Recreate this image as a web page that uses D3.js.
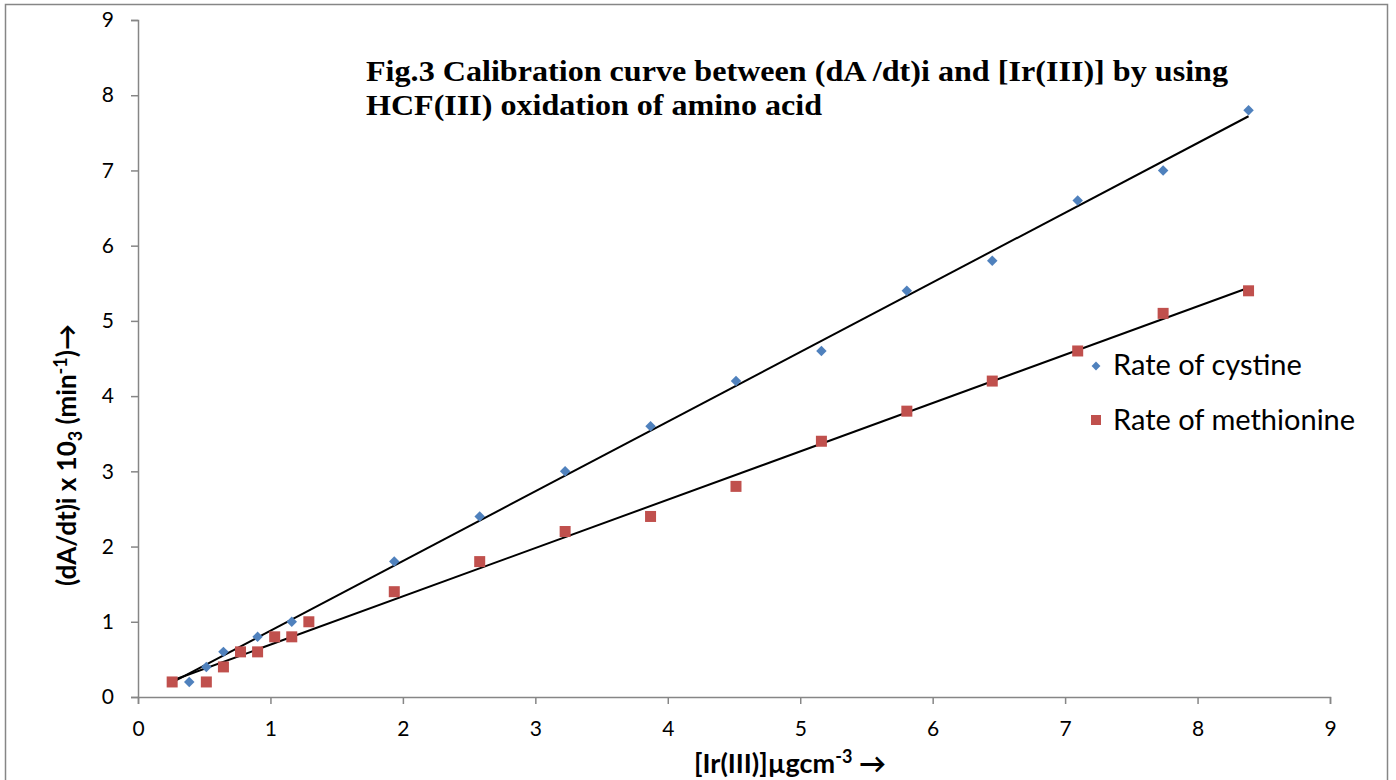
<!DOCTYPE html>
<html>
<head>
<meta charset="utf-8">
<script src="https://cdn.jsdelivr.net/npm/d3@7"></script>
<style>
  body { margin: 0; background: #fff; }
  svg { display: block; }
</style>
</head>
<body>
<div id="chart"></div>
<script>
// data
var cystineX = [0.387, 0.516, 0.645, 0.903, 1.161, 1.935, 2.58, 3.225, 3.87, 4.515, 5.16, 5.805, 6.45, 7.095, 7.74, 8.385];
var cystineY = [0.2, 0.4, 0.6, 0.8, 1.0, 1.8, 2.4, 3.0, 3.6, 4.2, 4.6, 5.4, 5.8, 6.6, 7.0, 7.8];
var methX = [0.258, 0.516, 0.645, 0.774, 0.903, 1.032, 1.161, 1.29, 1.935, 2.58, 3.225, 3.87, 4.515, 5.16, 5.805, 6.45, 7.095, 7.74, 8.385];
var methY = [0.2, 0.2, 0.4, 0.6, 0.6, 0.8, 0.8, 1.0, 1.4, 1.8, 2.2, 2.4, 2.8, 3.4, 3.8, 4.2, 4.6, 5.1, 5.4];
var xTicks = [0, 1, 2, 3, 4, 5, 6, 7, 8, 9];
var yTicks = [0, 1, 2, 3, 4, 5, 6, 7, 8, 9];
var seriesNames = ["Rate of cystine", "Rate of methionine"];
var titleLines = ["Fig.3 Calibration curve between (dA /dt)i and [Ir(III)] by using", "HCF(III) oxidation of amino acid"];

var width = 1396, height = 780;
var axisColor = "#868686";
var blue = "#4F81BD", red = "#C0504D";
var sans = "Lato, 'Open Sans', sans-serif";

var svg = d3.select("#chart").append("svg")
	.attr("width", width)
	.attr("height", height);

// outer chart border
svg.append("rect")
	.attr("x", 5.5).attr("y", 4.5)
	.attr("width", 1382).attr("height", 800)
	.attr("fill", "#fff")
	.attr("stroke", axisColor)
	.attr("stroke-width", 1.5);

var x = d3.scaleLinear().domain([0, 9]).range([138, 1330]);
var y = d3.scaleLinear().domain([0, 9]).range([697, 20]);

// axes
var xAxis = svg.append("g")
	.attr("transform", "translate(0," + y(0) + ")")
	.call(d3.axisBottom(x).tickValues(xTicks).tickSize(7).tickPadding(17).tickFormat(d3.format("d")));
var yAxis = svg.append("g")
	.attr("transform", "translate(" + x(0) + ",0)")
	.call(d3.axisLeft(y).tickValues(yTicks).tickSize(7).tickPadding(17).tickFormat(d3.format("d")));

[xAxis, yAxis].forEach(function(a) {
	a.select(".domain").attr("stroke", axisColor).attr("stroke-width", 1.5);
	a.selectAll(".tick line").attr("stroke", axisColor).attr("stroke-width", 1.5);
	a.selectAll(".tick text").attr("fill", "#000").style("font-family", sans).style("font-size", "21px");
});

// linear trendlines (least squares), drawn across the shared x range
function fit(xs, ys) {
	var n = xs.length;
	var mx = d3.mean(xs), my = d3.mean(ys);
	var sxy = 0, sxx = 0;
	for (var i = 0; i < n; i++) {
		sxy += (xs[i] - mx) * (ys[i] - my);
		sxx += (xs[i] - mx) * (xs[i] - mx);
	}
	var b = sxy / sxx;
	return { slope: b, intercept: my - b * mx };
}
var x0 = d3.min(methX.concat(cystineX)), x1 = d3.max(methX.concat(cystineX));
[[cystineX, cystineY], [methX, methY]].forEach(function(s) {
	var f = fit(s[0], s[1]);
	svg.append("line")
		.attr("x1", x(x0)).attr("y1", y(f.slope * x0 + f.intercept))
		.attr("x2", x(x1)).attr("y2", y(f.slope * x1 + f.intercept))
		.attr("stroke", "#000")
		.attr("stroke-width", 2);
});

// markers
var cystine = cystineX.map(function(d, i) { return { x: d, y: cystineY[i] }; });
var meth = methX.map(function(d, i) { return { x: d, y: methY[i] }; });

svg.selectAll(".meth")
	.data(meth)
	.enter().append("rect")
	.attr("class", "meth")
	.attr("x", function(d) { return x(d.x) - 5.5; })
	.attr("y", function(d) { return y(d.y) - 5.5; })
	.attr("width", 11).attr("height", 11)
	.attr("fill", red);

var diamond = d3.symbol().type(d3.symbolDiamond2).size(70);
svg.selectAll(".cys")
	.data(cystine)
	.enter().append("path")
	.attr("class", "cys")
	.attr("d", diamond)
	.attr("transform", function(d) { return "translate(" + x(d.x) + "," + y(d.y) + ")"; })
	.attr("fill", blue);

// legend
var legend = svg.append("g");
legend.append("path")
	.attr("d", d3.symbol().type(d3.symbolDiamond2).size(50))
	.attr("transform", "translate(1096,366)")
	.attr("fill", blue);
legend.append("rect")
	.attr("x", 1091).attr("y", 415).attr("width", 10).attr("height", 10)
	.attr("fill", red);
legend.selectAll("text")
	.data(seriesNames)
	.enter().append("text")
	.attr("x", 1113)
	.attr("y", function(d, i) { return 375 + i * 55; })
	.style("font-family", sans)
	.style("font-size", "29px")
	.attr("fill", "#000")
	.text(function(d) { return d; });

// title
svg.append("text")
	.attr("x", 366).attr("y", 81)
	.attr("textLength", 862).attr("lengthAdjust", "spacingAndGlyphs")
	.style("font-family", "'Liberation Serif', 'Times New Roman', serif")
	.style("font-weight", "bold")
	.style("font-size", "29px")
	.text(titleLines[0]);
svg.append("text")
	.attr("x", 366).attr("y", 115)
	.attr("textLength", 456).attr("lengthAdjust", "spacingAndGlyphs")
	.style("font-family", "'Liberation Serif', 'Times New Roman', serif")
	.style("font-weight", "bold")
	.style("font-size", "29px")
	.text(titleLines[1]);

// x axis label
var xl = svg.append("text")
	.attr("x", 790).attr("y", 773)
	.attr("text-anchor", "middle")
	.style("font-family", sans)
	.style("font-weight", "bold")
	.style("font-size", "27px");
xl.append("tspan").text("[Ir(III)]\u00b5gcm");
xl.append("tspan").attr("dy", -10).style("font-size", "18px").text("-3");
xl.append("tspan").attr("dy", 10).text(" \u2192");

// y axis label
var yl = svg.append("text")
	.attr("transform", "translate(76,455) rotate(-90)")
	.attr("text-anchor", "middle")
	.style("font-family", sans)
	.style("font-weight", "bold")
	.style("font-size", "26px");
yl.append("tspan").text("(dA/dt)i x 10");
yl.append("tspan").attr("dy", 6).style("font-size", "18px").text("3");
yl.append("tspan").attr("dy", -6).text(" (min");
yl.append("tspan").attr("dy", -9).style("font-size", "18px").text("-1");
yl.append("tspan").attr("dy", 9).text(")\u2192");
</script>
</body>
</html>
